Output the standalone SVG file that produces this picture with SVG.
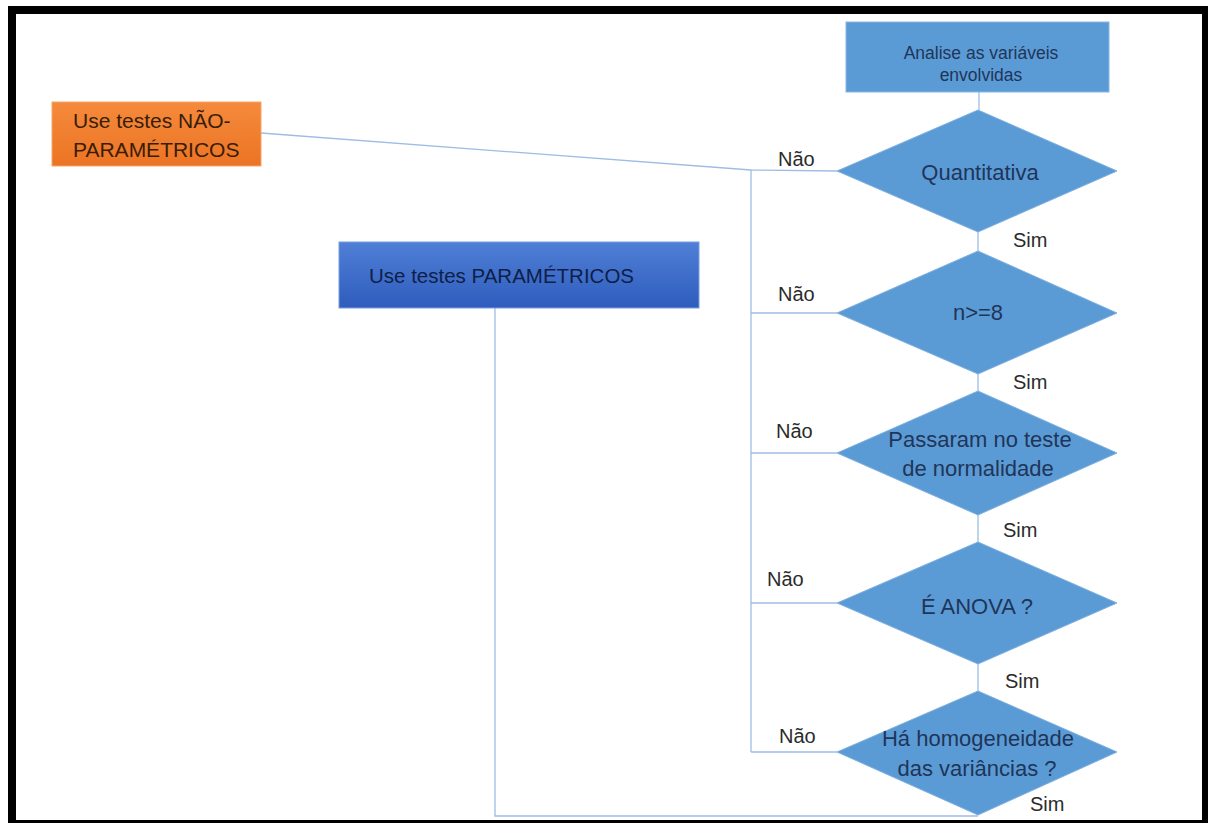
<svg xmlns="http://www.w3.org/2000/svg" width="1208" height="823" viewBox="0 0 1208 823">
<defs>
<linearGradient id="gOrange" x1="0" y1="0" x2="0" y2="1">
<stop offset="0" stop-color="#f58a3c"/>
<stop offset="1" stop-color="#ec7424"/>
</linearGradient>
<linearGradient id="gBlue" x1="0" y1="0" x2="0" y2="1">
<stop offset="0" stop-color="#4f7fd6"/>
<stop offset="1" stop-color="#2f5cbd"/>
</linearGradient>
<style>
.frame{fill:#000;fill-rule:evenodd;}
.dia{fill:#5b9bd5;stroke:#7fb0df;stroke-width:1;}
.box{fill:#5b9bd5;stroke:#8ab6e2;stroke-width:1;}
.conn{fill:none;stroke:#9dbde3;stroke-width:1.3;}
.t{font-family:"Liberation Sans",Arial,sans-serif;}
.dt{font-size:22px;fill:#1f3559;text-anchor:middle;}
.lbl{font-size:20px;fill:#2b2b2b;}
</style>
</defs>
<rect width="1208" height="823" fill="#fff"/>
<path class="frame" d="M8,6 H1208 V823 H8 Z M16,14 H1202 V820 H16 Z"/>
<g id="connectors">
<line class="conn" x1="979" y1="92" x2="979" y2="110"/>
<line class="conn" x1="978" y1="232" x2="978" y2="251"/>
<line class="conn" x1="978" y1="374" x2="978" y2="391"/>
<line class="conn" x1="978" y1="515" x2="978" y2="542"/>
<line class="conn" x1="978" y1="664" x2="978" y2="691"/>
<polyline class="conn" points="261,133 751,170 837,171"/>
<line class="conn" x1="751" y1="170" x2="751" y2="752"/>
<line class="conn" x1="751" y1="313" x2="837" y2="313"/>
<line class="conn" x1="751" y1="453" x2="837" y2="453"/>
<line class="conn" x1="751" y1="603" x2="837" y2="603"/>
<line class="conn" x1="751" y1="752" x2="837" y2="752"/>
<polyline class="conn" points="495,308 495,816 978,816"/>
<text class="t lbl" x="778" y="166">Não</text>
<text class="t lbl" x="1013" y="247">Sim</text>
<text class="t lbl" x="778" y="301">Não</text>
<text class="t lbl" x="1013" y="389">Sim</text>
<text class="t lbl" x="776" y="438">Não</text>
<text class="t lbl" x="1003" y="537">Sim</text>
<text class="t lbl" x="767" y="586">Não</text>
<text class="t lbl" x="1005" y="688">Sim</text>
<text class="t lbl" x="779" y="743">Não</text>
<text class="t lbl" x="1030" y="811">Sim</text>
</g>
<g id="start">
<rect class="box" x="846" y="22" width="263" height="70"/>
<text class="t" x="981" y="59" font-size="17.5" fill="#1f3559" text-anchor="middle">Analise as variáveis</text>
<text class="t" x="981" y="81" font-size="17.5" fill="#1f3559" text-anchor="middle">envolvidas</text>
</g>
<g id="naoParametricos">
<rect x="52" y="102" width="209" height="64" fill="url(#gOrange)" stroke="#f6a56b" stroke-width="1"/>
<text class="t" x="73" y="128" font-size="21" fill="#3a1d08">Use testes NÃO-</text>
<text class="t" x="73" y="157" font-size="21" fill="#3a1d08">PARAMÉTRICOS</text>
</g>
<g id="parametricos">
<rect x="339" y="242" width="360" height="66" fill="url(#gBlue)" stroke="#7a9de0" stroke-width="1"/>
<text class="t" x="369" y="283" font-size="20.5" fill="#0e1f48">Use testes PARAMÉTRICOS</text>
</g>
<g id="quantitativa">
<polygon class="dia" points="978,110 1117,171 978,232 837,171"/>
<text class="t dt" x="980" y="180">Quantitativa</text>
</g>
<g id="n8">
<polygon class="dia" points="978,251 1117,313 978,374 837,313"/>
<text class="t dt" x="978" y="320">n&gt;=8</text>
</g>
<g id="normalidade">
<polygon class="dia" points="978,391 1117,453 978,515 837,453"/>
<text class="t dt" x="980" y="447">Passaram no teste</text>
<text class="t dt" x="978" y="476">de normalidade</text>
</g>
<g id="anova">
<polygon class="dia" points="978,542 1117,603 978,664 837,603"/>
<text class="t dt" x="977" y="614">É ANOVA ?</text>
</g>
<g id="homogeneidade">
<polygon class="dia" points="978,691 1117,752 978,815 837,752"/>
<text class="t dt" x="978" y="746">Há homogeneidade</text>
<text class="t dt" x="977" y="776">das variâncias ?</text>
</g>
</svg>
